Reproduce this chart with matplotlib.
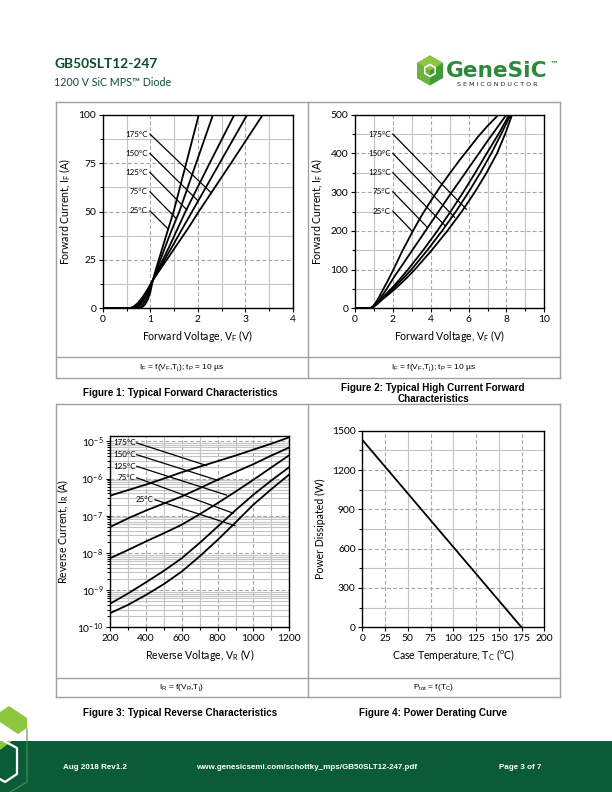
import numpy as np
import matplotlib
matplotlib.use("Agg")
import matplotlib.pyplot as plt
from matplotlib.patches import Polygon, Rectangle
from matplotlib.lines import Line2D
from matplotlib.ticker import MultipleLocator, FixedLocator, LogLocator, NullFormatter, FuncFormatter

plt.rcParams['font.family'] = ['Lato', 'DejaVu Sans']
plt.rcParams['mathtext.fontset'] = 'custom'
plt.rcParams['mathtext.rm'] = 'Lato'
plt.rcParams['mathtext.it'] = 'Lato:italic'
plt.rcParams['mathtext.bf'] = 'Lato:bold'

# ---------------- data ----------------
TEMPS = ['175°C', '150°C', '125°C', '75°C', '25°C']

# Figure 1: forward characteristics (V, A)
F1_V25 = [0, 0.5, 0.75, 0.82, 0.88, 0.94, 1.0, 1.05, 1.12, 1.2, 1.35, 1.49, 1.75, 2.02]
F1_I25 = [0, 0, 0, 0.5, 1.8, 4.2, 8.5, 14.5, 20.5, 27, 39, 50, 74.5, 100]
F1_V75 = [0, 0.5, 0.7, 0.77, 0.84, 0.91, 0.98, 1.05, 1.15, 1.3, 1.45, 1.61, 1.95, 2.32]
F1_I75 = [0, 0, 0, 0.6, 2, 4.5, 8.8, 14.5, 21, 31, 40.5, 50, 74, 100]
F1_V125 = [0, 0.45, 0.64, 0.72, 0.8, 0.88, 0.96, 1.05, 1.2, 1.4, 1.57, 1.74, 2.25, 2.77]
F1_I125 = [0, 0, 0, 0.7, 2.3, 5, 9, 14.5, 22, 32, 41, 50, 75, 100]
F1_V150 = [0, 0.4, 0.6, 0.68, 0.77, 0.86, 0.95, 1.05, 1.25, 1.45, 1.67, 1.88, 2.46, 3.04]
F1_I150 = [0, 0, 0, 0.8, 2.5, 5.3, 9.3, 14.5, 23, 31.5, 41, 50, 75, 100]
F1_V175 = [0, 0.4, 0.56, 0.64, 0.73, 0.83, 0.94, 1.05, 1.3, 1.55, 1.8, 2.02, 2.7, 3.37]
F1_I175 = [0, 0, 0, 0.8, 2.6, 5.6, 9.8, 14.5, 23.5, 32.5, 41.5, 50, 75, 100]

# Figure 2: high current forward characteristics (V, A)
F2_V25 = [0, 0.8, 0.9, 1.0, 1.1, 1.25, 1.5, 1.75, 2.0, 2.5, 3.04, 3.5, 4.0, 4.5, 5.0, 5.5, 6.0, 6.5, 7.0, 7.58]
F2_I25 = [0, 0, 3, 8, 15, 27, 50, 73, 97, 148, 198, 238, 277, 314, 348, 381, 412, 443, 471, 500]
F2_V75 = [0, 0.8, 0.9, 1.0, 1.1, 1.25, 1.4, 1.7, 2.0, 2.5, 3.0, 3.82, 4.5, 5.0, 6.0, 7.0, 8.0]
F2_I75 = [0, 0, 2.5, 6.5, 12, 20, 30, 52, 76, 112, 148, 207, 256, 292, 362, 432, 500]
F2_V125 = [0, 0.8, 0.9, 1.0, 1.1, 1.25, 1.4, 1.7, 2.0, 2.4, 2.8, 3.6, 4.35, 5.05, 5.72, 6.35, 6.96, 7.58, 8.15]
F2_I125 = [0, 0, 2, 5.5, 10, 17, 25, 40, 55, 77, 100, 150, 200, 250, 300, 350, 400, 450, 500]
F2_V150 = [0, 0.8, 0.9, 1.0, 1.1, 1.25, 1.4, 1.7, 2.0, 2.5, 2.98, 3.82, 4.6, 5.33, 6.0, 6.62, 7.2, 7.72, 8.22]
F2_I150 = [0, 0, 2, 5, 9, 15.5, 23, 36, 50, 75, 100, 150, 200, 250, 300, 350, 400, 450, 500]
F2_V175 = [0, 0.8, 0.9, 1.0, 1.1, 1.25, 1.4, 1.7, 2.0, 2.6, 3.16, 4.05, 4.88, 5.64, 6.33, 6.95, 7.5, 7.93, 8.3]
F2_I175 = [0, 0, 1.8, 4.5, 8, 14, 21, 33, 45, 72, 100, 150, 200, 250, 300, 350, 400, 450, 500]

# Figure 3: reverse characteristics (V, A)
F3_V = [200, 300, 400, 500, 600, 700, 800, 900, 1000, 1100, 1200]
F3_I175 = [3.47e-7, 4.9e-7, 6.9e-7, 1.0e-6, 1.48e-6, 2.09e-6, 2.95e-6, 4.17e-6, 6.03e-6, 8.7e-6, 1.29e-5]
F3_I150 = [5.0e-8, 8.5e-8, 1.38e-7, 2.14e-7, 3.31e-7, 5.5e-7, 9.3e-7, 1.51e-6, 2.45e-6, 4.17e-6, 6.9e-6]
F3_I125 = [7.2e-9, 1.2e-8, 2.04e-8, 3.39e-8, 5.75e-8, 1.1e-7, 2.19e-7, 4.47e-7, 9.3e-7, 2.0e-6, 4.27e-6]
F3_I75 = [4.3e-10, 8.1e-10, 1.62e-9, 3.3e-9, 7.2e-9, 1.86e-8, 5.1e-8, 1.41e-7, 3.7e-7, 8.9e-7, 2.04e-6]
F3_I25 = [2.4e-10, 4.0e-10, 7.4e-10, 1.45e-9, 3.16e-9, 8.1e-9, 2.24e-8, 6.6e-8, 2.0e-7, 5.2e-7, 1.29e-6]

# Figure 4: power derating
F4_TC = [0, 175]
F4_P = [1430, 0]

# leader lines for temperature labels: (x0, y0, x1, y1)
F1_LEAD = [(0.99, 90, 2.28, 59.7), (0.99, 80, 2.0, 55.6), (0.99, 70.2, 1.77, 50.8),
           (0.99, 60.2, 1.54, 46.5), (0.99, 50.3, 1.38, 40.8)]
F2_LEAD = [(2.0, 450, 5.88, 256), (2.0, 400, 5.26, 235), (2.0, 350, 4.77, 213),
           (2.0, 301, 3.82, 209), (2.0, 251, 3.04, 198)]
F3_LEAD = [(349, 9.1e-6, 739, 2.24e-6), (349, 4.4e-6, 804, 8.9e-7), (349, 2.14e-6, 850, 3.6e-7),
           (349, 1.05e-6, 888, 1.17e-7), (451, 2.7e-7, 897, 5.4e-8)]

# ---------------- figure ----------------
W, H = 612, 792
fig = plt.figure(figsize=(6.12, 7.92), dpi=100)


def rect(l, t, r, b):
    return [l / W, 1 - b / H, (r - l) / W, (b - t) / H]


bg = fig.add_axes([0, 0, 1, 1], zorder=-5)
bg.set_xlim(0, W)
bg.set_ylim(H, 0)
bg.axis('off')

GREEN_DK = '#0d4d2b'
BOX = '#a0a0a0'

# header
bg.text(54.5, 64, 'GB50SLT12-247', fontsize=9.9, fontweight='bold', color=GREEN_DK, va='center', ha='left')
bg.text(54.5, 83, '1200 V SiC MPS\u2122 Diode', fontsize=7.7, color=GREEN_DK, va='center', ha='left')

# logo
hx, hy, hr = 430, 70.5, 15
hexpts = [(hx + hr * np.cos(np.radians(a)), hy + hr * np.sin(np.radians(a))) for a in range(30, 390, 60)]
bg.add_patch(Polygon(hexpts, closed=True, fc='#3f9b35', ec='none'))
bg.add_patch(Polygon([(hx, hy - hr), (hx + hr * 0.866, hy - hr / 2), (hx, hy), (hx - hr * 0.866, hy - hr / 2)],
                     closed=True, fc='#8dc63f', ec='none'))
bg.add_patch(Polygon([(hx - hr * 0.866, hy - hr / 2), (hx, hy), (hx, hy + hr), (hx - hr * 0.866, hy + hr / 2)],
                     closed=True, fc='#6cb33f', ec='none'))
inner = [(hx + 6 * np.cos(np.radians(a)), hy + 6 * np.sin(np.radians(a))) for a in range(30, 390, 60)]
bg.add_patch(Polygon(inner, closed=True, fc='none', ec='white', lw=1.2))
bg.text(445.5, 71, 'GeneSiC', fontsize=15.6, fontweight='bold', family='DejaVu Sans', color='#2b8a3a',
        va='center', ha='left')
bg.text(550, 64.5, '\u2122', fontsize=6, fontweight='bold', family='DejaVu Sans', color='#2b8a3a', va='center')
bg.text(497, 84, 'S E M I C O N D U C T O R', fontsize=4.6, family='DejaVu Sans', color='#222222',
        va='center', ha='center')

# boxes
def hline(y, x0, x1):
    bg.add_line(Line2D([x0, x1], [y, y], color=BOX, lw=1.0))


def vline(x, y0, y1):
    bg.add_line(Line2D([x, x], [y0, y1], color=BOX, lw=1.0))


L, M, R = 55.5, 307.5, 559.5
for (t, mid, b) in [(101.5, 356.7, 377.7), (404.3, 677.5, 696.5)]:
    hline(t, L, R)
    hline(mid, L, R)
    hline(b, L, R)
    vline(L, t, b)
    vline(M, t, b)
    vline(R, t, b)

CAPF = dict(family=['Liberation Sans', 'DejaVu Sans'], fontsize=6.0, va='center', ha='center')
bg.text(181.5, 367.5, 'I$_\\mathregular{F}$ = f(V$_\\mathregular{F}$,T$_\\mathregular{j}$); t$_\\mathregular{P}$ = 10 µs', **CAPF)
bg.text(433.5, 367.5, 'I$_\\mathregular{F}$ = f(V$_\\mathregular{F}$,T$_\\mathregular{j}$); t$_\\mathregular{P}$ = 10 µs', **CAPF)
bg.text(181.5, 687.5, 'I$_\\mathregular{R}$ = f(V$_\\mathregular{R}$,T$_\\mathregular{j}$)', **CAPF)
bg.text(433.5, 687.5, 'P$_\\mathregular{tot}$ = f(T$_\\mathregular{C}$)', **CAPF)

CAPB = dict(family=['Liberation Sans', 'DejaVu Sans'], fontsize=7.1, fontweight='bold', va='center', ha='center')
bg.text(180, 393.5, 'Figure 1: Typical Forward Characteristics', **CAPB)
bg.text(433, 388, 'Figure 2: Typical High Current Forward', **CAPB)
bg.text(433, 399.5, 'Characteristics', **CAPB)
bg.text(180, 713, 'Figure 3: Typical Reverse Characteristics', **CAPB)
bg.text(433, 713, 'Figure 4: Power Derating Curve', **CAPB)

# footer
bg.add_patch(Rectangle((0, 741), W, 51, fc='#0a5c36', ec='none'))
FOOT = dict(family=['Liberation Sans', 'DejaVu Sans'], fontsize=5.8, fontweight='bold', color='white', va='center')
bg.text(63, 767.5, 'Aug 2018 Rev1.2', ha='left', **FOOT)
bg.text(307, 767.5, 'www.genesicsemi.com/schottky_mps/GB50SLT12-247.pdf', ha='center', **FOOT)
bg.text(520.5, 767.5, 'Page 3 of 7', ha='center', **FOOT)

# bottom-left decoration
bg.add_patch(Polygon([(0, 712), (9, 706), (27, 718), (27, 728), (18, 734), (0, 722)], closed=True,
                     fc='#8dc63f', ec='none'))
bg.add_patch(Polygon([(0, 741), (12, 741), (0, 750)], closed=True, fc='#8dc63f', ec='none'))
bg.add_line(Line2D([4, 17, 17, 5, 0], [741, 748, 774, 782, 779], color='white', lw=1.6))
bg.add_line(Line2D([27, 27, 10], [729, 782, 792], color='#4a8f5a', lw=0.8))

# ---------------- axes helpers ----------------
LW = 1.3
TICK_FS = 7.4
LAB_FS = 7.6


def style(ax):
    for s in ax.spines.values():
        s.set_linewidth(1.0)
        s.set_color('black')
    ax.tick_params(which='both', direction='out', width=0.8, labelsize=TICK_FS, pad=2, colors='black')
    ax.tick_params(which='major', length=2.8)
    ax.tick_params(which='minor', length=2.2)
    ax.set_axisbelow(True)


def grids(ax):
    ax.grid(which='major', color='#a8a8a8', lw=0.8, ls=(0, (3.5, 2)))
    ax.grid(which='minor', color='#c4c4c4', lw=0.8, ls='-')


# ---------------- Figure 1 ----------------
ax1 = fig.add_axes(rect(103, 114.7, 292.7, 308.3))
style(ax1)
ax1.set_xlim(0, 4)
ax1.set_ylim(0, 100)
ax1.xaxis.set_major_locator(MultipleLocator(1))
ax1.xaxis.set_minor_locator(MultipleLocator(0.5))
ax1.yaxis.set_major_locator(MultipleLocator(25))
ax1.yaxis.set_minor_locator(MultipleLocator(12.5))
grids(ax1)
for v, i in [(F1_V25, F1_I25), (F1_V75, F1_I75), (F1_V125, F1_I125), (F1_V150, F1_I150), (F1_V175, F1_I175)]:
    ax1.plot(v, i, color='black', lw=LW, solid_joinstyle='round')
for lab, (x0, y0, x1, y1) in zip(TEMPS, F1_LEAD):
    ax1.plot([x0, x1], [y0, y1], color='black', lw=0.9)
    ax1.text(x0 - 0.05, y0, lab, fontsize=5.8, ha='right', va='center')
ax1.set_xlabel('Forward Voltage, V$_\\mathregular{F}$ (V)', fontsize=LAB_FS, labelpad=3)
ax1.set_ylabel('Forward Current, I$_\\mathregular{F}$ (A)', fontsize=LAB_FS, labelpad=4)

# ---------------- Figure 2 ----------------
ax2 = fig.add_axes(rect(355, 114.7, 544.3, 308.3))
style(ax2)
ax2.set_xlim(0, 10)
ax2.set_ylim(0, 500)
ax2.xaxis.set_major_locator(MultipleLocator(2))
ax2.xaxis.set_minor_locator(MultipleLocator(1))
ax2.yaxis.set_major_locator(MultipleLocator(100))
ax2.yaxis.set_minor_locator(MultipleLocator(50))
grids(ax2)
for v, i in [(F2_V25, F2_I25), (F2_V75, F2_I75), (F2_V125, F2_I125), (F2_V150, F2_I150), (F2_V175, F2_I175)]:
    ax2.plot(v, i, color='black', lw=LW, solid_joinstyle='round')
for lab, (x0, y0, x1, y1) in zip(TEMPS, F2_LEAD):
    ax2.plot([x0, x1], [y0, y1], color='black', lw=0.9)
    ax2.text(x0 - 0.12, y0, lab, fontsize=5.8, ha='right', va='center')
ax2.set_xlabel('Forward Voltage, V$_\\mathregular{F}$ (V)', fontsize=LAB_FS, labelpad=3)
ax2.set_ylabel('Forward Current, I$_\\mathregular{F}$ (A)', fontsize=LAB_FS, labelpad=4)

# ---------------- Figure 3 ----------------
ax3 = fig.add_axes(rect(110, 436, 289.3, 627.3))
style(ax3)
ax3.set_yscale('log')
ax3.set_xlim(200, 1200)
ax3.set_ylim(1e-10, 1.4e-5)
ax3.xaxis.set_major_locator(MultipleLocator(200))
ax3.xaxis.set_minor_locator(MultipleLocator(100))
ax3.yaxis.set_major_locator(FixedLocator([1e-10, 1e-9, 1e-8, 1e-7, 1e-6, 1e-5]))
ax3.yaxis.set_minor_locator(LogLocator(base=10, subs=np.arange(2, 10), numticks=30))
ax3.yaxis.set_minor_formatter(NullFormatter())
ax3.yaxis.set_major_formatter(FuncFormatter(lambda v, p: '10$^{\\mathregular{%d}}$' % int(round(np.log10(v)))))
grids(ax3)
for cur in [F3_I175, F3_I150, F3_I125, F3_I75, F3_I25]:
    ax3.plot(F3_V, cur, color='black', lw=LW, solid_joinstyle='round')
for lab, (x0, y0, x1, y1) in zip(TEMPS, F3_LEAD):
    ax3.plot([x0, x1], [y0, y1], color='black', lw=0.9)
    ax3.text(x0 - 6, y0, lab, fontsize=5.8, ha='right', va='center')
ax3.set_xlabel('Reverse Voltage, V$_\\mathregular{R}$ (V)', fontsize=LAB_FS, labelpad=3)
ax3.set_ylabel('Reverse Current, I$_\\mathregular{R}$ (A)', fontsize=LAB_FS, labelpad=4)

# ---------------- Figure 4 ----------------
ax4 = fig.add_axes(rect(362.3, 430.7, 544.3, 627.3))
style(ax4)
ax4.set_xlim(0, 200)
ax4.set_ylim(0, 1500)
ax4.xaxis.set_major_locator(MultipleLocator(25))
ax4.yaxis.set_major_locator(MultipleLocator(300))
ax4.yaxis.set_minor_locator(MultipleLocator(150))
for x in range(25, 200, 25):
    if x % 50:
        ax4.axvline(x, color='#a8a8a8', lw=0.8, ls=(0, (3.5, 2)), zorder=0)
    else:
        ax4.axvline(x, color='#c4c4c4', lw=0.8, ls='-', zorder=0)
for y in range(150, 1500, 150):
    if y % 300 == 0:
        ax4.axhline(y, color='#a8a8a8', lw=0.8, ls=(0, (3.5, 2)), zorder=0)
    else:
        ax4.axhline(y, color='#c4c4c4', lw=0.8, ls='-', zorder=0)
ax4.plot(F4_TC, F4_P, color='black', lw=LW)
ax4.set_xlabel('Case Temperature, T$_\\mathregular{C}$ ($^\\mathregular{o}$C)', fontsize=LAB_FS, labelpad=3)
ax4.set_ylabel('Power Dissipated (W)', fontsize=LAB_FS, labelpad=4)

fig.savefig('out.png', dpi=100)
